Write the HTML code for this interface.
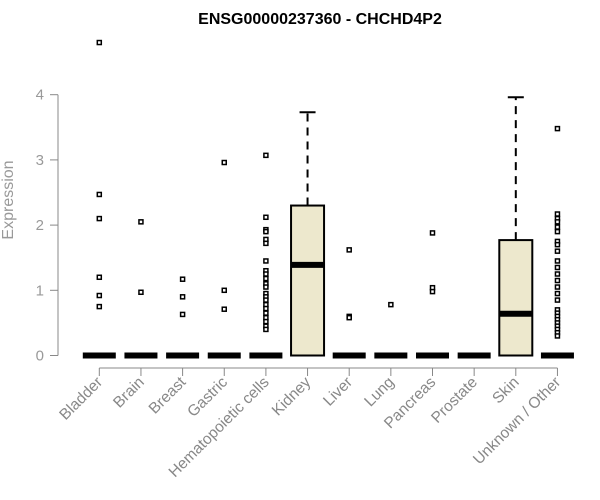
<!DOCTYPE html>
<html><head><meta charset="utf-8"><style>
html,body{margin:0;padding:0;background:#fff;}
svg{display:block;font-family:"Liberation Sans",Arial,sans-serif;}
</style></head><body>
<svg id="chart" width="600" height="500" viewBox="0 0 600 500">
<text x="320" y="24" text-anchor="middle" font-size="16" font-weight="bold" fill="#000">ENSG00000237360 - CHCHD4P2</text>
<text transform="translate(13,200) rotate(-90)" text-anchor="middle" font-size="16" fill="#999">Expression</text>
<g id="plot"></g>
</svg>
<script>
const categories = ["Bladder","Brain","Breast","Gastric","Hematopoietic cells","Kidney","Liver","Lung","Pancreas","Prostate","Skin","Unknown / Other"];
const q1 = [0,0,0,0,0,0,0,0,0,0,0,0];
const medians = [0,0,0,0,0,1.39,0,0,0,0,0.64,0];
const q3 = [0,0,0,0,0,2.30,0,0,0,0,1.77,0];
const whiskerTop = [0,0,0,0,0,3.73,0,0,0,0,3.96,0];
const outliers = [
 [4.8,2.47,2.1,1.2,0.92,0.75],
 [2.05,0.97],
 [1.17,0.9,0.63],
 [2.96,1.0,0.71],
 [3.07,2.12,1.93,1.9,1.78,1.72,1.45,1.3,1.25,1.18,1.1,1.05,0.95,0.9,0.85,0.78,0.72,0.65,0.58,0.52,0.45,0.4],
 [],
 [1.62,0.6,0.58],
 [0.78],
 [1.88,1.04,0.98],
 [],
 [],
 [3.48,2.17,2.1,2.05,1.97,1.9,1.75,1.7,1.6,1.45,1.35,1.25,1.15,1.05,0.95,0.85,0.7,0.65,0.6,0.55,0.5,0.45,0.4,0.35,0.3]
];
const yTicks = [0,1,2,3,4];

function xScale(i){ return 99.3 + 41.65*i; }
function yScale(v){ return 355.5 - 65.2*v; }

const NS="http://www.w3.org/2000/svg";
const g=document.getElementById('plot');
function mk(tag,attrs){const e=document.createElementNS(NS,tag);for(const k in attrs)e.setAttribute(k,attrs[k]);g.appendChild(e);return e;}

let ya=mk('line',{x1:58,x2:58,y1:yScale(yTicks[0]),y2:yScale(yTicks[yTicks.length-1]),stroke:'#888','stroke-width':1});


yTicks.forEach(t=>{
  const l=mk('line',{x1:50,x2:58,y1:yScale(t),y2:yScale(t),stroke:'#888'});
  
  
  const tx=mk('text',{x:44,y:yScale(t)+5,'text-anchor':'end','font-size':15,fill:'#999'});
  tx.textContent=t;
  
  
});
let xa=mk('line',{x1:xScale(0),x2:xScale(categories.length-1),y1:368,y2:368,stroke:'#888'});


categories.forEach((c,i)=>{
  const x=xScale(i);
  const t=mk('line',{x1:x,x2:x,y1:368,y2:376,stroke:'#888'});
  
  
  const tx=mk('text',{transform:`translate(${x+4},${383}) rotate(-45)`,'text-anchor':'end','font-size':15.5,fill:'#888'});
  tx.textContent=c;
  
  
});
categories.forEach((c,i)=>{
  const x=xScale(i), hw=16.5;
  if(whiskerTop[i]>q3[i]){
    const w=mk('line',{x1:x,x2:x,y1:yScale(q3[i]),y2:yScale(whiskerTop[i]),stroke:'#000','stroke-width':2,'stroke-dasharray':'8,6'});
    
    
    const cap=mk('line',{x1:x-8,x2:x+8,y1:yScale(whiskerTop[i]),y2:yScale(whiskerTop[i]),stroke:'#000','stroke-width':2});
    
    
  }
  if(q3[i]>q1[i]){
    const b=mk('rect',{x:x-hw,y:yScale(q3[i]),width:hw*2,height:yScale(q1[i])-yScale(q3[i]),fill:'#ede8cd',stroke:'#000','stroke-width':2});
    
    
  }
  const m=mk('line',{x1:x-hw,x2:x+hw,y1:yScale(medians[i]),y2:yScale(medians[i]),stroke:'#000','stroke-width':6});
  
  
  outliers[i].forEach(v=>{
    const p=mk('rect',{x:x-2,y:yScale(v)-2,width:4,height:4,fill:'#fff',stroke:'#000','stroke-width':1.5});
    
    
  });
});
</script>
</body></html>
